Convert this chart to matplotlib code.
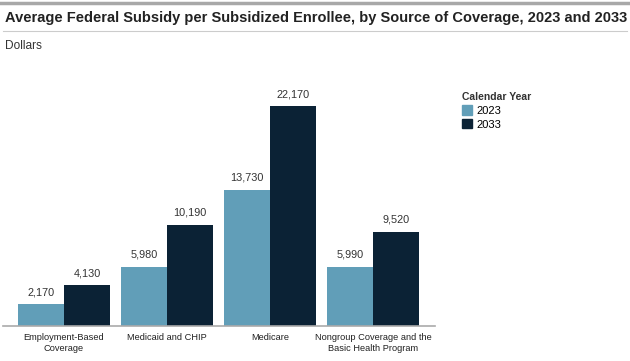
import numpy as np
import matplotlib.pyplot as plt
from matplotlib.lines import Line2D
from matplotlib.patches import Patch

categories = ["Employment-Based\nCoverage", "Medicaid and CHIP", "Medicare",
              "Nongroup Coverage and the\nBasic Health Program"]
years = ["2023", "2033"]
values_2023 = [2170, 5980, 13730, 5990]
values_2033 = [4130, 10190, 22170, 9520]

plt.rcParams["font.family"] = ["Liberation Sans", "DejaVu Sans"]

C23 = "#619EB8"
C33 = "#0B2235"

fig = plt.figure(figsize=(6.3, 3.61), dpi=100)
ax = fig.add_axes([3 / 630, 35 / 361, 432 / 630, 266 / 361])

x = np.arange(len(categories))
w = 46 / 103
b1 = ax.bar(x - w / 2, values_2023, w, color=C23, label=years[0])
b2 = ax.bar(x + w / 2, values_2033, w, color=C33, label=years[1])
for bars in (b1, b2):
    for r in bars:
        ax.text(r.get_x() + r.get_width() / 2, r.get_height() + 700,
                f"{int(r.get_height()):,}", ha="center", va="bottom",
                fontsize=7.8, color="#333333")

ax.set_xlim((3 - 64) / 103, (435 - 64) / 103)
ax.set_ylim(0, 22170 * 266 / 220)
for s in ["top", "right", "left"]:
    ax.spines[s].set_visible(False)
ax.spines["bottom"].set_color("#AAAAAA")
ax.spines["bottom"].set_linewidth(1.2)
ax.set_yticks([])
ax.set_xticks(x)
ax.set_xticklabels(categories, fontsize=6.7, color="#222222", linespacing=1.25)
ax.tick_params(axis="x", length=0, pad=5)

# header
fig.add_artist(Line2D([0, 1], [1 - 3 / 361] * 2, color="#A8A8A8", lw=2.5))
fig.text(5 / 630, 1 - 18 / 361,
         "Average Federal Subsidy per Subsidized Enrollee, by Source of Coverage, 2023 and 2033",
         fontsize=10.5, fontweight="bold", color="#222222", va="center")
fig.add_artist(Line2D([3 / 630, 627 / 630], [1 - 31 / 361] * 2, color="#CCCCCC", lw=0.8))
fig.text(5 / 630, 1 - 46 / 361, "Dollars", fontsize=8.6, color="#333333", va="center")

handles = [Patch(color=C23, label=years[0]), Patch(color=C33, label=years[1])]
leg = fig.legend(handles=handles, title="Calendar Year", loc="upper left",
                 bbox_to_anchor=(462 / 630, 1 - 92 / 361), frameon=False,
                 fontsize=8, title_fontsize=7.5, handlelength=0.9, handleheight=0.9,
                 handletextpad=0.4, labelspacing=0.3, borderaxespad=0, borderpad=0)
leg.get_title().set_fontweight("bold")
leg.get_title().set_color("#333333")
leg._legend_box.align = "left"

fig.savefig("out.png", dpi=100)
